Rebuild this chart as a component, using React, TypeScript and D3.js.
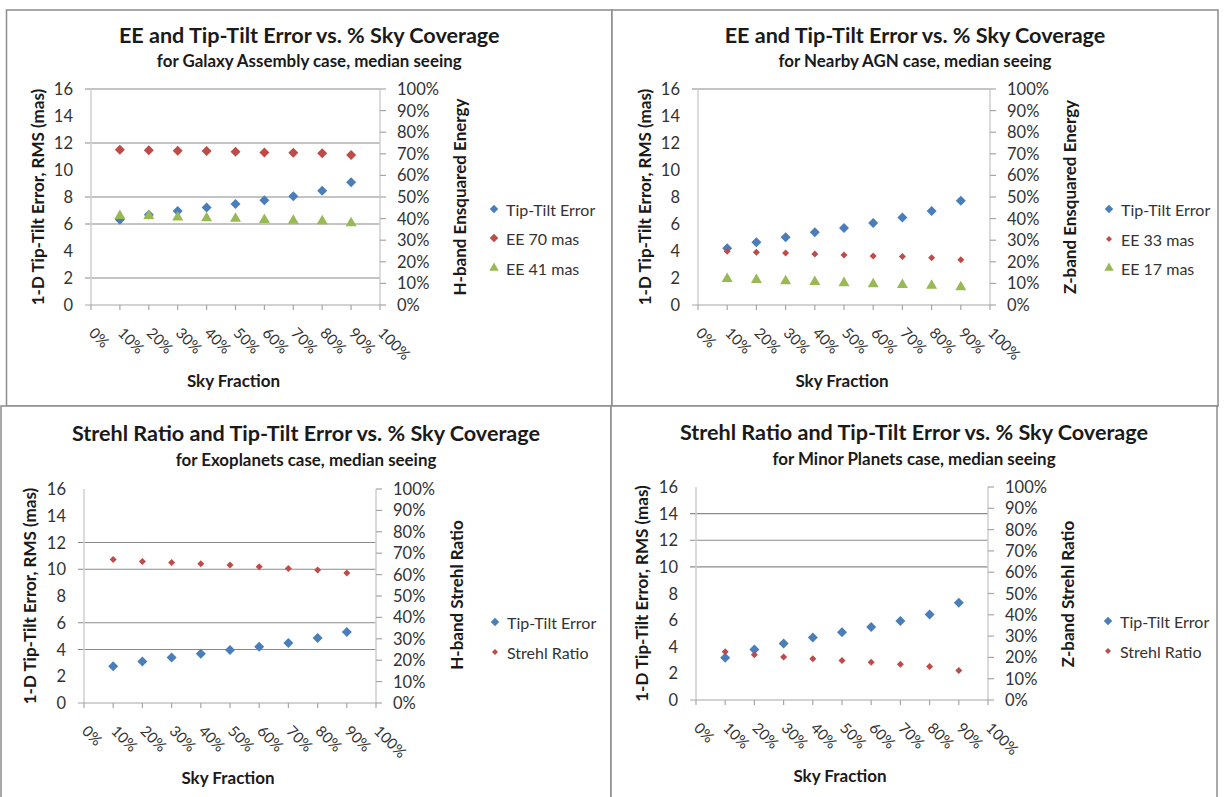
import React from "react";
import * as d3 from "d3";

// ---------- data ----------
const skyTicks = ["0%", "10%", "20%", "30%", "40%", "50%", "60%", "70%", "80%", "90%", "100%"];
const skyPoints = ["10%", "20%", "30%", "40%", "50%", "60%", "70%", "80%", "90%"];
const leftTicks = [0, 2, 4, 6, 8, 10, 12, 14, 16];
const rightTicks = [0, 10, 20, 30, 40, 50, 60, 70, 80, 90, 100];

const galaxyTipTilt = [6.31, 6.68, 6.97, 7.22, 7.49, 7.76, 8.06, 8.46, 9.1];
const galaxyEE70 = [71.9, 71.7, 71.4, 71.3, 70.9, 70.6, 70.5, 70.2, 69.4];
const galaxyEE41 = [41.3, 41.3, 40.6, 40.2, 40.0, 39.4, 39.1, 38.8, 37.9];

const agnTipTilt = [4.2, 4.65, 5.02, 5.39, 5.71, 6.08, 6.48, 6.97, 7.72];
const agnEE33 = [24.9, 24.4, 24.1, 23.6, 23.2, 22.7, 22.4, 21.9, 20.9];
const agnEE17 = [12.1, 11.6, 11.1, 10.7, 10.2, 9.7, 9.3, 9.0, 8.3];

const exoTipTilt = [2.74, 3.11, 3.41, 3.69, 3.96, 4.21, 4.49, 4.86, 5.31];
const exoStrehl = [67.0, 66.1, 65.6, 65.1, 64.5, 63.7, 62.9, 62.1, 60.7];

const minorTipTilt = [3.18, 3.79, 4.24, 4.69, 5.09, 5.49, 5.94, 6.42, 7.3];
const minorStrehl = [22.7, 21.2, 20.2, 19.4, 18.5, 17.7, 16.8, 15.7, 13.8];

// ---------- styles ----------
const BLUE = "#4A7EBB";
const RED = "#BE4B48";
const GREEN = "#98B954";
const FONT = "Lato, 'Open Sans', sans-serif";

type Series = {
  name: string;
  values: number[];
  axis: "left" | "right";
  color: string;
  shape: "diamond" | "triangle";
  size: number;
};

type PanelCfg = {
  box: [number, number, number, number];
  L: number; R: number; T: number; B: number;
  title: string; subtitle: string;
  titleY: number; subY: number;
  leftTitleX: number; rightTitleX: number; rightTitleY: number;
  rightTitle: string;
  skyY: number;
  legendX: number; legendY: number[];
  grid: number[];
  series: Series[];
};

const panels: PanelCfg[] = [
  {
    box: [6.5, 10, 612, 406],
    L: 91, R: 380, T: 89, B: 305,
    title: "EE and Tip-Tilt Error vs. % Sky Coverage",
    subtitle: "for Galaxy Assembly case, median seeing",
    titleY: 35, subY: 60,
    leftTitleX: 37, rightTitleX: 459, rightTitleY: 197,
    rightTitle: "H-band Ensquared Energy",
    skyY: 380,
    legendX: 494, legendY: [209, 238, 268],
    grid: [16, 12, 8, 6, 2],
    series: [
      { name: "Tip-Tilt Error", values: galaxyTipTilt, axis: "left", color: BLUE, shape: "diamond", size: 10 },
      { name: "EE 70 mas", values: galaxyEE70, axis: "right", color: RED, shape: "diamond", size: 10 },
      { name: "EE 41 mas", values: galaxyEE41, axis: "right", color: GREEN, shape: "triangle", size: 11 },
    ],
  },
  {
    box: [612, 10, 1218, 406],
    L: 698, R: 990, T: 89, B: 305,
    title: "EE and Tip-Tilt Error vs. % Sky Coverage",
    subtitle: "for Nearby AGN case, median seeing",
    titleY: 35, subY: 60,
    leftTitleX: 644, rightTitleX: 1069, rightTitleY: 197,
    rightTitle: "Z-band Ensquared Energy",
    skyY: 380,
    legendX: 1109, legendY: [209, 239, 268],
    grid: [16],
    series: [
      { name: "Tip-Tilt Error", values: agnTipTilt, axis: "left", color: BLUE, shape: "diamond", size: 10 },
      { name: "EE 33 mas", values: agnEE33, axis: "right", color: RED, shape: "diamond", size: 7 },
      { name: "EE 17 mas", values: agnEE17, axis: "right", color: GREEN, shape: "triangle", size: 11 },
    ],
  },
  {
    box: [1, 406, 611, 800],
    L: 84, R: 376, T: 489, B: 703,
    title: "Strehl Ratio and Tip-Tilt Error vs. % Sky Coverage",
    subtitle: "for Exoplanets case, median seeing",
    titleY: 433, subY: 459,
    leftTitleX: 29, rightTitleX: 456, rightTitleY: 595,
    rightTitle: "H-band Strehl Ratio",
    skyY: 777,
    legendX: 495, legendY: [622, 652],
    grid: [12, 10, 6, 4],
    series: [
      { name: "Tip-Tilt Error", values: exoTipTilt, axis: "left", color: BLUE, shape: "diamond", size: 10 },
      { name: "Strehl Ratio", values: exoStrehl, axis: "right", color: RED, shape: "diamond", size: 7 },
    ],
  },
  {
    box: [611, 406, 1217, 800],
    L: 696, R: 988, T: 487, B: 700,
    title: "Strehl Ratio and Tip-Tilt Error vs. % Sky Coverage",
    subtitle: "for Minor Planets case, median seeing",
    titleY: 432, subY: 458,
    leftTitleX: 641, rightTitleX: 1067, rightTitleY: 594,
    rightTitle: "Z-band Strehl Ratio",
    skyY: 775,
    legendX: 1108, legendY: [621, 651],
    grid: [14, 12, 10],
    series: [
      { name: "Tip-Tilt Error", values: minorTipTilt, axis: "left", color: BLUE, shape: "diamond", size: 10 },
      { name: "Strehl Ratio", values: minorStrehl, axis: "right", color: RED, shape: "diamond", size: 7 },
    ],
  },
];

function markerPath(shape: "diamond" | "triangle", w: number): string {
  if (shape === "diamond") {
    const side = w / Math.SQRT2;
    return d3.symbol(d3.symbolSquare, side * side)()!;
  }
  const area = (Math.sqrt(3) / 4) * w * w;
  return d3.symbol(d3.symbolTriangle, area)()!;
}

function Marker({ x, y, s }: { x: number; y: number; s: Series }) {
  const rot = s.shape === "diamond" ? " rotate(45)" : "";
  return (
    <path
      d={markerPath(s.shape, s.size)}
      transform={`translate(${x},${y})${rot}`}
      fill={s.color}
    />
  );
}

function Panel({ p }: { p: PanelCfg }) {
  const x = d3.scalePoint<string>().domain(skyTicks).range([p.L, p.R]).padding(0);
  const yL = d3.scaleLinear().domain([0, 16]).range([p.B, p.T]);
  const yR = d3.scaleLinear().domain([0, 100]).range([p.B, p.T]);
  const cx = (p.box[0] + p.box[2]) / 2;
  const leftMid = (p.T + p.B) / 2;
  const [bx0, by0, bx1, by1] = p.box;
  return (
    <g fontFamily={FONT}>
      <rect x={bx0} y={by0} width={bx1 - bx0} height={by1 - by0} fill="white" stroke="#8c8c8c" strokeWidth={1.5} />
      <text x={cx} y={p.titleY} textAnchor="middle" dominantBaseline="central" fontSize={21.6} fontWeight="bold" fill="#1a1a1a">
        {p.title}
      </text>
      <text x={cx} y={p.subY} textAnchor="middle" dominantBaseline="central" fontSize={16.9} fontWeight="bold" fill="#1a1a1a">
        {p.subtitle}
      </text>
      {p.grid.map((g) => (
        <line key={"g" + g} x1={p.L - 6} x2={p.R} y1={yL(g)} y2={yL(g)} stroke="#8a8a8a" strokeWidth={1.2} />
      ))}
      <line x1={p.L} x2={p.L} y1={p.T} y2={p.B} stroke="#cfcfcf" strokeWidth={1.5} />
      <line x1={p.R} x2={p.R} y1={p.T} y2={p.B} stroke="#cfcfcf" strokeWidth={1.5} />
      <line x1={p.L - 6} x2={p.R} y1={p.B} y2={p.B} stroke="#a6a6a6" strokeWidth={1.2} />
      {skyTicks.map((t) => (
        <line key={"xt" + t} x1={x(t)!} x2={x(t)!} y1={p.B} y2={p.B + 5} stroke="#a6a6a6" strokeWidth={1.2} />
      ))}
      {rightTicks.map((t) => (
        <line key={"rt" + t} x1={p.R} x2={p.R + 6} y1={yR(t)} y2={yR(t)} stroke="#a6a6a6" strokeWidth={1.2} />
      ))}
      {leftTicks.map((t) => (
        <text key={"lt" + t} x={p.L - 18} y={yL(t)} textAnchor="end" dominantBaseline="central" fontSize={16.5} fill="#333">
          {t}
        </text>
      ))}
      {rightTicks.map((t) => (
        <text key={"rl" + t} x={p.R + 17} y={yR(t)} textAnchor="start" dominantBaseline="central" fontSize={16.5} fill="#333">
          {t + "%"}
        </text>
      ))}
      {skyTicks.map((t) => (
        <text
          key={"xl" + t}
          transform={`translate(${x(t)! - 3},${p.B + 29}) rotate(45)`}
          textAnchor="start"
          fontSize={15}
          fill="#333"
        >
          {t}
        </text>
      ))}
      <text
        transform={`translate(${p.leftTitleX},${leftMid}) rotate(-90)`}
        textAnchor="middle"
        dominantBaseline="central"
        fontSize={17}
        fontWeight="bold"
        fill="#1a1a1a"
      >
        1-D Tip-Tilt Error, RMS (mas)
      </text>
      <text
        transform={`translate(${p.rightTitleX},${p.rightTitleY}) rotate(-90)`}
        textAnchor="middle"
        dominantBaseline="central"
        fontSize={17}
        fontWeight="bold"
        fill="#1a1a1a"
      >
        {p.rightTitle}
      </text>
      <text x={(p.L + p.R) / 2 - 2} y={p.skyY} textAnchor="middle" dominantBaseline="central" fontSize={17} fontWeight="bold" fill="#1a1a1a">
        Sky Fraction
      </text>
      {p.series.map((s, si) => (
        <g key={"s" + si}>
          {s.values.map((v, i) => (
            <Marker key={i} x={x(skyPoints[i])!} y={s.axis === "left" ? yL(v) : yR(v)} s={s} />
          ))}
        </g>
      ))}
      {p.series.map((s, si) => (
        <g key={"lg" + si}>
          <Marker x={p.legendX} y={p.legendY[si]} s={{ ...s, size: s.size * 0.85 }} />
          <text x={p.legendX + 12} y={p.legendY[si]} dominantBaseline="central" fontSize={16} fill="#333">
            {s.name}
          </text>
        </g>
      ))}
    </g>
  );
}

export default function App() {
  return (
    <svg
      width={1225}
      height={797}
      viewBox="0 0 1225 797"
      style={{ position: "absolute", left: 0, top: 0, background: "white" }}
    >
      <rect x={0} y={0} width={1225} height={797} fill="white" />
      {panels.map((p, i) => (
        <Panel key={i} p={p} />
      ))}
    </svg>
  );
}
